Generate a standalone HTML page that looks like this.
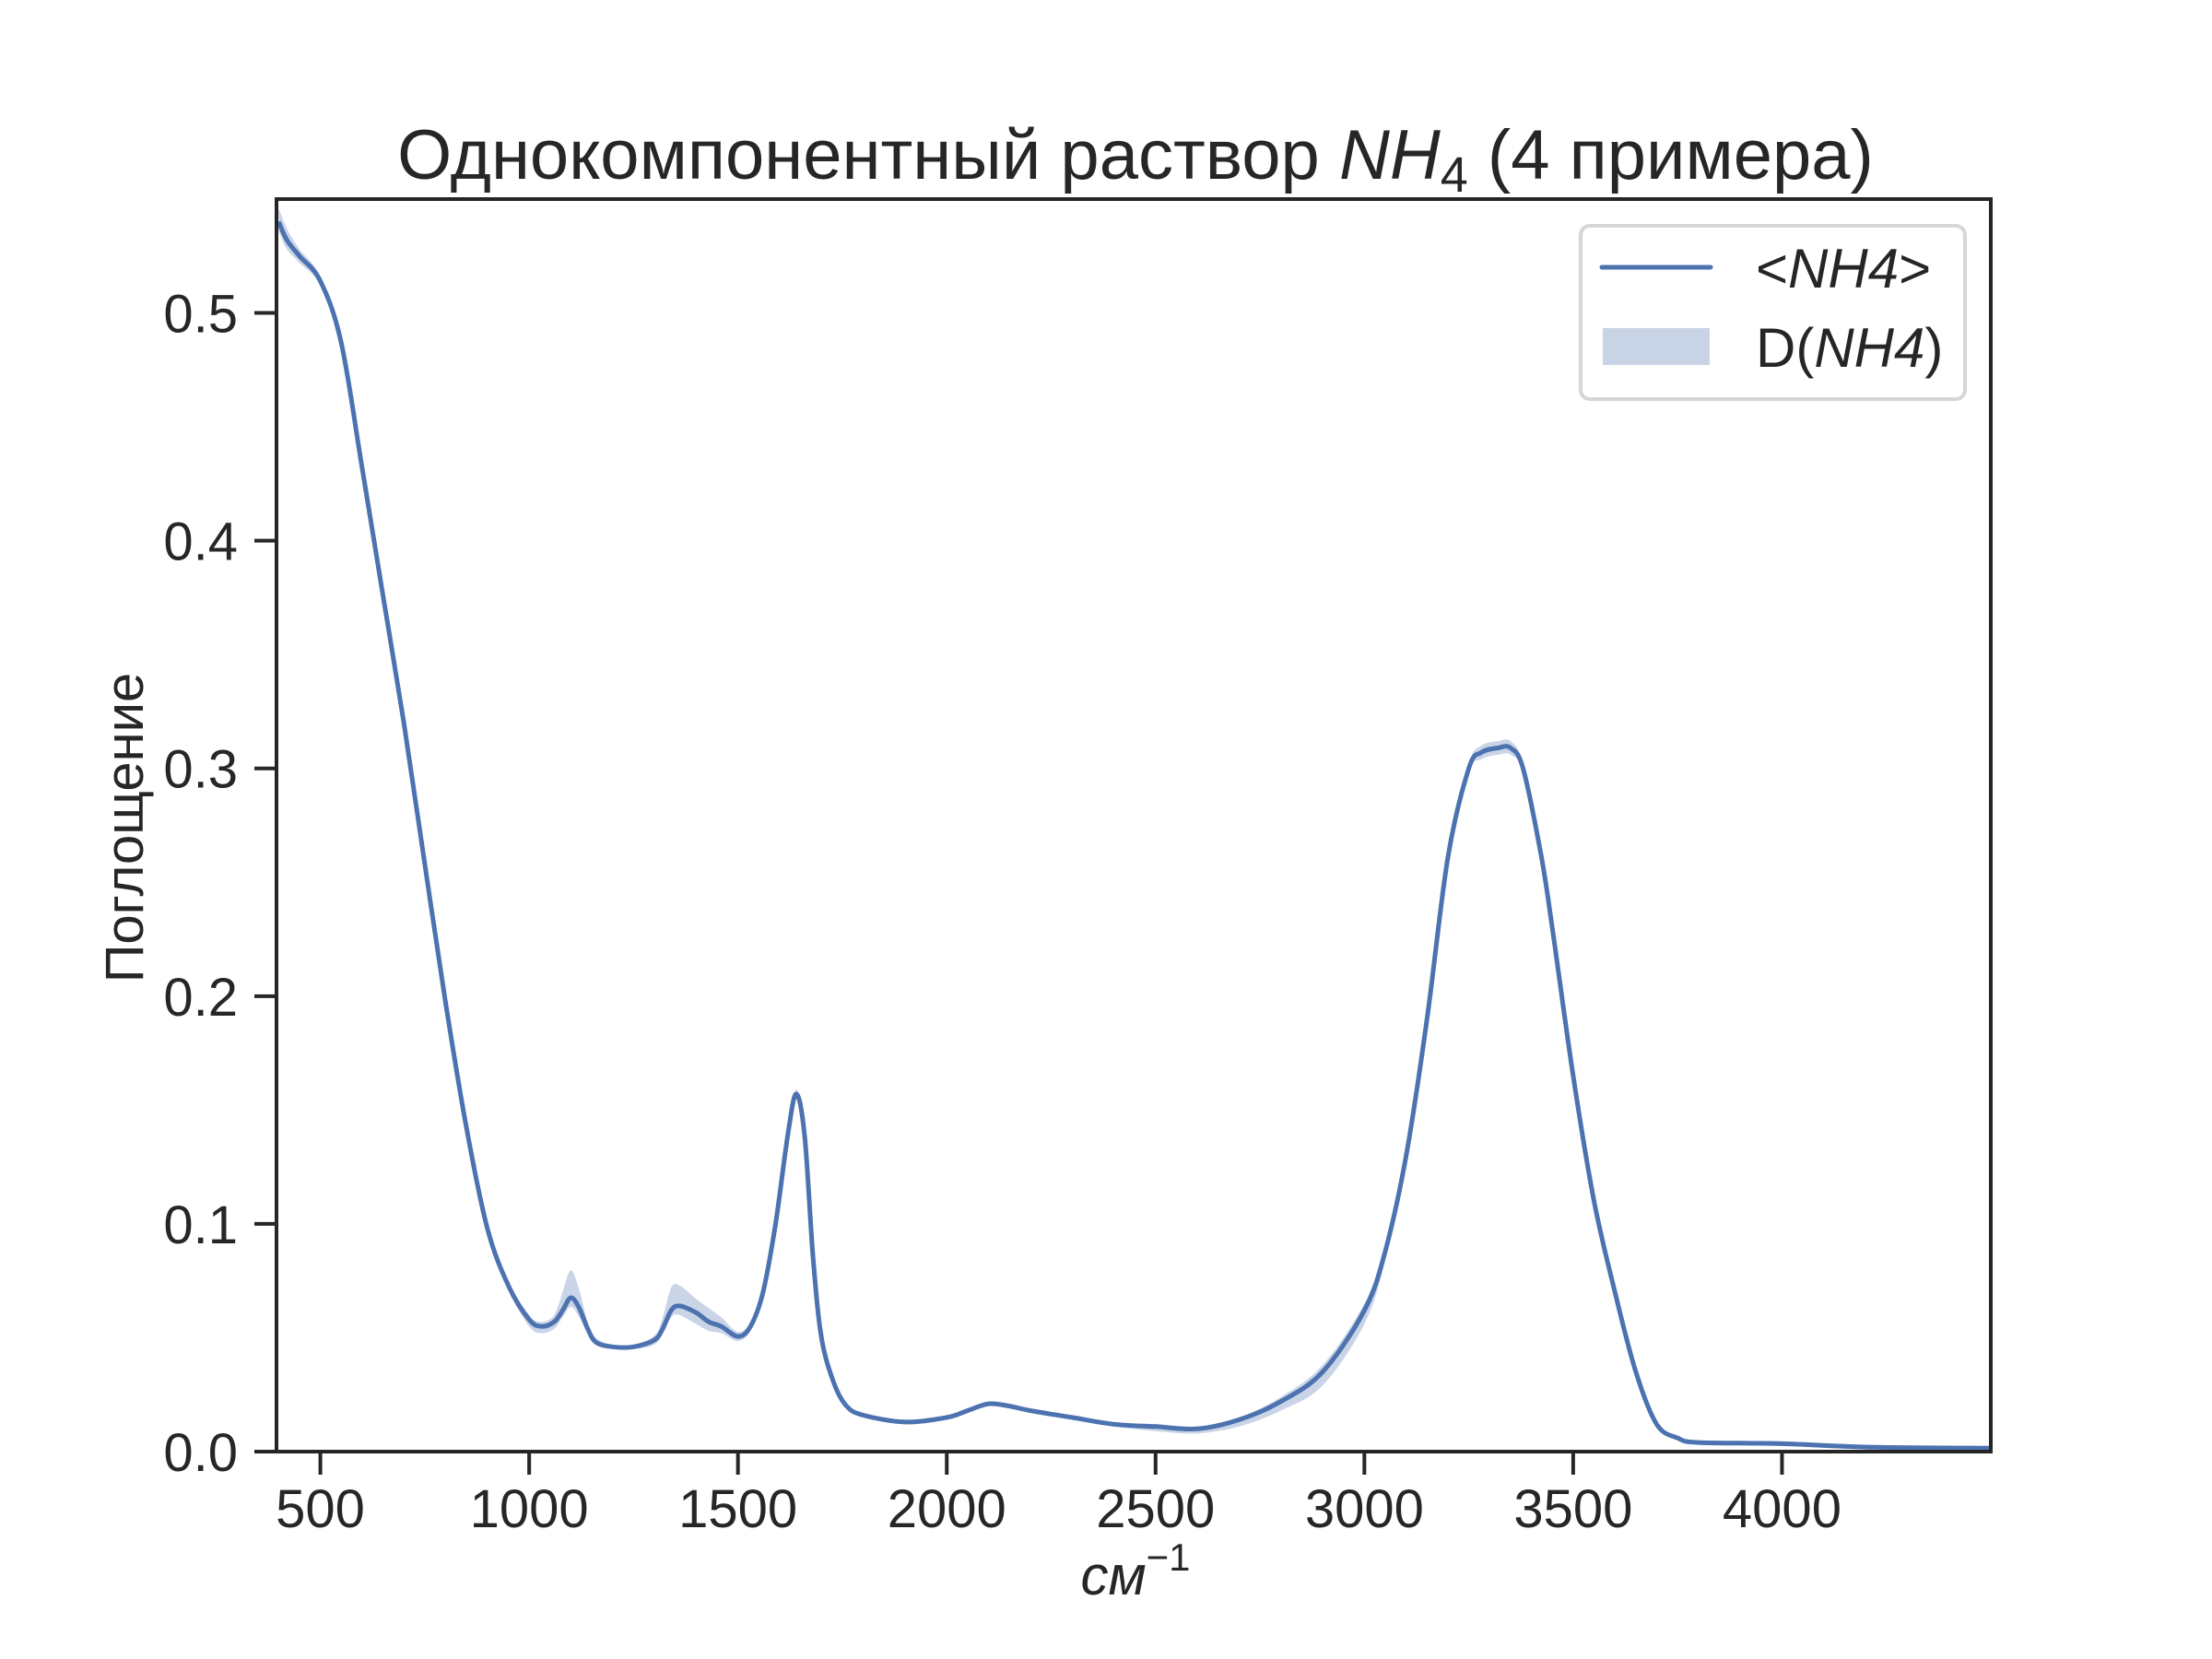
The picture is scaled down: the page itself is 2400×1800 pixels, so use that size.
<!DOCTYPE html>
<html><head><meta charset="utf-8">
<style>
html,body{margin:0;padding:0;background:#fff;}
svg{display:block;font-family:"Liberation Sans",Arial,sans-serif;}
</style></head>
<body>
<svg id="chart" width="2400" height="1800" viewBox="0 0 2400 1800" xmlns="http://www.w3.org/2000/svg">
<rect width="2400" height="1800" fill="#fff"/>
<g id="band"></g>
<g id="line"></g>
<g id="axes"></g>
<text x="1232" y="194" text-anchor="middle" font-size="76" fill="#262626">Однокомпонентный раствор <tspan font-style="italic">NH</tspan><tspan font-size="54" dy="14">4</tspan><tspan dy="-14"> (4 примера)</tspan></text>
<text x="1232" y="1730" text-anchor="middle" font-size="60" fill="#262626" font-style="italic">см<tspan font-size="42" dy="-26" font-style="normal">−1</tspan></text>
<text transform="translate(155,898) rotate(-90)" text-anchor="middle" font-size="58" fill="#262626">Поглощение</text>
<g>
<rect x="1715" y="245" width="417" height="188" rx="10" fill="#fff" stroke="#d6d6d6" stroke-width="4"/>
<line x1="1738" y1="290" x2="1856" y2="290" stroke="#4c72b0" stroke-width="5" stroke-linecap="round"/>
<rect x="1739" y="356" width="116" height="40" fill="#c8d3e5"/>
<text x="1905" y="312" font-size="60" fill="#262626">&lt;<tspan font-style="italic">NH4</tspan>&gt;</text>
<text x="1905" y="398" font-size="60" fill="#262626">D(<tspan font-style="italic">NH4</tspan>)</text>
</g>
</svg>
<script>
const wavenumbers=[400,420,450,500,550,600,650,700,750,800,850,900,950,1000,1030,1060,1080,1100,1120,1140,1160,1200,1250,1300,1320,1340,1360,1400,1430,1460,1500,1530,1560,1590,1620,1640,1660,1680,1700,1730,1760,1800,1900,2000,2050,2100,2150,2200,2300,2400,2500,2600,2700,2800,2900,3000,3050,3100,3150,3200,3250,3280,3320,3350,3380,3424,3450,3500,3550,3600,3650,3700,3750,3800,4000,4200,4500];
const meanValues=[0.54,0.532,0.525,0.514,0.487,0.432,0.376,0.32,0.258,0.197,0.142,0.098,0.073,0.058,0.055,0.057,0.062,0.0676,0.063,0.054,0.048,0.046,0.046,0.049,0.054,0.062,0.064,0.061,0.057,0.055,0.0506,0.055,0.07,0.1,0.14,0.157,0.138,0.085,0.05,0.03,0.02,0.016,0.013,0.015,0.018,0.021,0.02,0.018,0.015,0.012,0.011,0.010,0.014,0.022,0.035,0.062,0.088,0.13,0.19,0.261,0.3,0.307,0.309,0.309,0.3,0.261,0.23,0.165,0.11,0.07,0.035,0.012,0.006,0.004,0.0035,0.002,0.0015];
const upperDev=[0.006,0.005,0.003,0.002,0.002,0.002,0.002,0.002,0.002,0.002,0.002,0.002,0.002,0.002,0.002,0.003,0.008,0.012,0.008,0.003,0.002,0.001,0.001,0.002,0.005,0.01,0.009,0.006,0.006,0.004,0.002,0.002,0.002,0.002,0.002,0.002,0.002,0.002,0.001,0.001,0.001,0.001,0.001,0.001,0.001,0.001,0.001,0.001,0.001,0.001,0.001,0.001,0.001,0.002,0.003,0.003,0.002,0.002,0.002,0.002,0.002,0.003,0.003,0.003,0.002,0.002,0.002,0.002,0.001,0.001,0.001,0.001,0.001,0.001,0.001,0.001,0.001];
const lowerDev=[0.004,0.004,0.003,0.002,0.002,0.002,0.002,0.002,0.002,0.002,0.002,0.002,0.002,0.003,0.003,0.003,0.003,0.004,0.004,0.002,0.001,0.001,0.001,0.002,0.002,0.003,0.004,0.005,0.004,0.003,0.002,0.002,0.002,0.002,0.002,0.002,0.002,0.002,0.001,0.001,0.001,0.001,0.001,0.001,0.001,0.001,0.001,0.001,0.001,0.001,0.002,0.002,0.003,0.004,0.006,0.006,0.004,0.003,0.002,0.002,0.002,0.003,0.003,0.003,0.002,0.002,0.002,0.002,0.001,0.001,0.001,0.001,0.001,0.001,0.001,0.001,0.001];
const xTicks=[500,1000,1500,2000,2500,3000,3500,4000];
const yTicks=[0,0.1,0.2,0.3,0.4,0.5];
const yTickLabels=["0.0","0.1","0.2","0.3","0.4","0.5"];
const X0=300,X1=2160,Y0=1575,Y1=216,XMIN=395,XMAX=4500,YMIN=0,YMAX=0.55;
function xs(v){return X0+(v-XMIN)/(XMAX-XMIN)*(X1-X0);}
function ys(v){return Y0-(v-YMIN)/(YMAX-YMIN)*(Y0-Y1);}
const NS="http://www.w3.org/2000/svg";
function smooth(pts){
  let d="M"+pts[0][0].toFixed(1)+","+pts[0][1].toFixed(1);
  for(let i=0;i<pts.length-1;i++){
    const p0=pts[Math.max(0,i-1)],p1=pts[i],p2=pts[i+1],p3=pts[Math.min(pts.length-1,i+2)];
    const c1x=p1[0]+(p2[0]-p0[0])/6,c1y=p1[1]+(p2[1]-p0[1])/6;
    const c2x=p2[0]-(p3[0]-p1[0])/6,c2y=p2[1]-(p3[1]-p1[1])/6;
    d+=" C"+c1x.toFixed(1)+","+c1y.toFixed(1)+" "+c2x.toFixed(1)+","+c2y.toFixed(1)+" "+p2[0].toFixed(1)+","+p2[1].toFixed(1);
  }
  return d;
}
const up=wavenumbers.map((w,i)=>[xs(w),ys(meanValues[i]+upperDev[i])]);
const lo=wavenumbers.map((w,i)=>[xs(w),ys(meanValues[i]-lowerDev[i])]).reverse();
const bandPath=document.createElementNS(NS,"path");


bandPath.setAttribute("d",smooth(up)+" L"+smooth(lo).slice(1)+" Z");
bandPath.setAttribute("fill","#4c72b0");bandPath.setAttribute("fill-opacity","0.3");
document.getElementById("band").appendChild(bandPath);
const linePath=document.createElementNS(NS,"path");


linePath.setAttribute("d",smooth(wavenumbers.map((w,i)=>[xs(w),ys(meanValues[i])])));
linePath.setAttribute("fill","none");linePath.setAttribute("stroke","#4c72b0");linePath.setAttribute("stroke-width","5");linePath.setAttribute("stroke-linejoin","round");
document.getElementById("line").appendChild(linePath);
const ax=document.getElementById("axes");
const frame=document.createElementNS(NS,"rect");


frame.setAttribute("x",X0);frame.setAttribute("y",Y1);frame.setAttribute("width",X1-X0);frame.setAttribute("height",Y0-Y1);
frame.setAttribute("fill","none");frame.setAttribute("stroke","#262626");frame.setAttribute("stroke-width","4");
ax.appendChild(frame);
xTicks.forEach(t=>{
  const l=document.createElementNS(NS,"line");
  
  
  l.setAttribute("x1",xs(t));l.setAttribute("x2",xs(t));l.setAttribute("y1",Y0);l.setAttribute("y2",Y0+25);
  l.setAttribute("stroke","#262626");l.setAttribute("stroke-width","4");ax.appendChild(l);
  const tx=document.createElementNS(NS,"text");
  
  
  tx.setAttribute("x",xs(t));tx.setAttribute("y",1657);tx.setAttribute("text-anchor","middle");
  tx.setAttribute("font-size","58");tx.setAttribute("fill","#262626");tx.textContent=String(t);ax.appendChild(tx);
});
yTicks.forEach((t,i)=>{
  const l=document.createElementNS(NS,"line");
  
  
  l.setAttribute("x1",X0-24);l.setAttribute("x2",X0);l.setAttribute("y1",ys(t));l.setAttribute("y2",ys(t));
  l.setAttribute("stroke","#262626");l.setAttribute("stroke-width","4");ax.appendChild(l);
  const tx=document.createElementNS(NS,"text");
  
  
  tx.setAttribute("x",258);tx.setAttribute("y",ys(t)+21);tx.setAttribute("text-anchor","end");
  tx.setAttribute("font-size","58");tx.setAttribute("fill","#262626");tx.textContent=yTickLabels[i];ax.appendChild(tx);
});
</script>
</body></html>
